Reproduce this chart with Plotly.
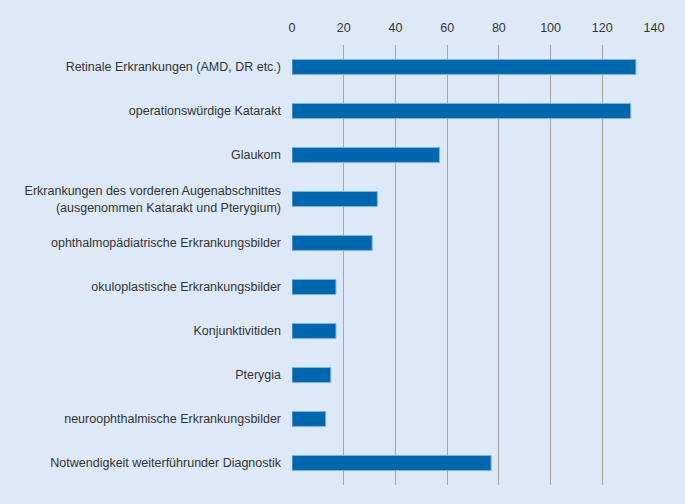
import plotly.graph_objects as go

categories = [
    "Retinale Erkrankungen (AMD, DR etc.)",
    "operationswürdige Katarakt",
    "Glaukom",
    "Erkrankungen des vorderen Augenabschnittes<br>(ausgenommen Katarakt und Pterygium)",
    "ophthalmopädiatrische Erkrankungsbilder",
    "okuloplastische Erkrankungsbilder",
    "Konjunktivitiden",
    "Pterygia",
    "neuroophthalmische Erkrankungsbilder",
    "Notwendigkeit weiterführunder Diagnostik",
]
values = [133, 131, 57, 33, 31, 17, 17, 15, 13, 77]
tick_vals = [0, 20, 40, 60, 80, 100, 120, 140]

bg = "#dde9f7"
fig = go.Figure(go.Bar(
    x=values, y=categories, orientation="h",
    marker=dict(color="#0066ad", line=dict(color="#7fb2e0", width=1)),
    width=0.34,
))
fig.update_layout(
    width=685, height=504,
    paper_bgcolor=bg, plot_bgcolor=bg,
    margin=dict(l=292, r=31, t=45, b=19),
    font=dict(family="Liberation Sans, Arial, sans-serif", size=12.5, color="#333333"),
    showlegend=False,
)
fig.update_xaxes(
    side="top", range=[0, 140], tickvals=tick_vals,
    showgrid=True, gridcolor="#a6a6a6", gridwidth=1,
    zeroline=False, showline=False, ticks="", ticklabelstandoff=10,
    tickfont=dict(size=12.5, color="#333333"),
)
fig.update_yaxes(
    autorange="reversed", showgrid=False, zeroline=False, showline=False,
    ticks="", ticklabelstandoff=10,
    tickfont=dict(size=12.5, color="#333333"),
)
fig.write_html(
    "out.html",
    config={"displayModeBar": False},
    post_script="document.body.style.margin='0';document.body.style.background='#dde9f7';",
)
